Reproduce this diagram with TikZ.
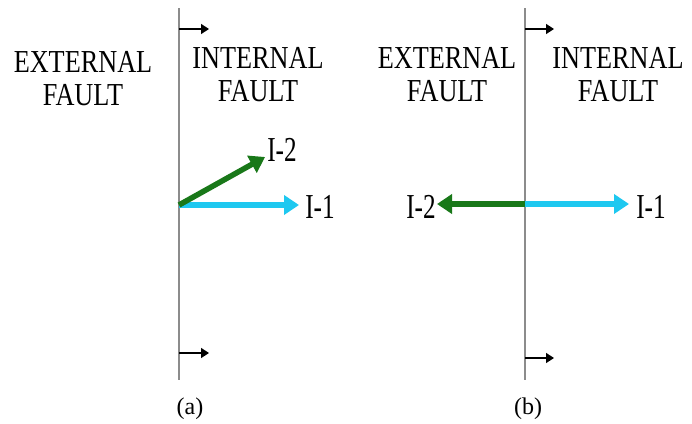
\documentclass[tikz,border=0pt]{standalone}
\usepackage{fontspec}
\setmainfont{Liberation Serif}
\usetikzlibrary{arrows.meta}
\definecolor{cyanarrow}{RGB}{30,200,240}
\definecolor{greenarrow}{RGB}{25,120,25}
\definecolor{linegray}{RGB}{140,140,140}
\begin{document}
\begin{tikzpicture}[x=1pt,y=-1pt,
  divider/.style={draw=linegray,line width=2.4pt},
  smallarrow/.style={draw=black,line width=1.4pt,-{Triangle[length=8pt,width=10pt]}},
  bigarrow/.style={line width=5.5pt,-{Triangle[length=15pt,width=19pt]}},
  faultlabel/.style={font=\fontsize{32}{33}\selectfont,align=center,xscale=0.82,inner sep=0pt},
  curlabel/.style={font=\fontsize{35}{35}\selectfont,xscale=0.72,inner sep=0pt},
  caption/.style={font=\fontsize{24}{24}\selectfont,inner sep=0pt}]
\useasboundingbox (0,0) rectangle (692,423);
% left panel
\coordinate (ltop) at (179,8);
\coordinate (lbot) at (179,380);
\draw[divider] (ltop) -- (lbot);
\coordinate (la1) at (179,29);
\coordinate (la1e) at (209,29);
\coordinate (la2) at (179,353);
\coordinate (la2e) at (209,353);
\draw[smallarrow] (la1) -- (la1e);
\draw[smallarrow] (la2) -- (la2e);
\node[faultlabel] (lext) at (83,79) {EXTERNAL\\FAULT};
\node[faultlabel] (lint) at (258,75) {INTERNAL\\FAULT};
\coordinate (lo) at (179,205);
\node[curlabel] (li1) at (320,207) {I-1};
\node[curlabel] (li2) at (282,150) {I-2};
\draw[bigarrow,cyanarrow] (lo) -- (299,205);
\draw[bigarrow,greenarrow] (179,205) -- (265,157);
\node[caption] (capa) at (190,409) {(a)};
% right panel
\coordinate (rtop) at (525,8);
\coordinate (rbot) at (525,380);
\draw[divider] (rtop) -- (rbot);
\coordinate (ra1) at (525,29);
\coordinate (ra1e) at (554,29);
\coordinate (ra2) at (525,358);
\coordinate (ra2e) at (554,358);
\draw[smallarrow] (ra1) -- (ra1e);
\draw[smallarrow] (ra2) -- (ra2e);
\node[faultlabel] (rext) at (447,75) {EXTERNAL\\FAULT};
\node[faultlabel] (rint) at (618,75) {INTERNAL\\FAULT};
\coordinate (ro) at (525,204);
\node[curlabel] (ri1) at (651,207) {I-1};
\node[curlabel] (ri2) at (421,207) {I-2};
\draw[bigarrow,cyanarrow] (ro) -- (629,204);
\draw[bigarrow,greenarrow] (ro) -- (437,204);
\node[caption] (capb) at (528,409) {(b)};
\end{tikzpicture}
\end{document}
